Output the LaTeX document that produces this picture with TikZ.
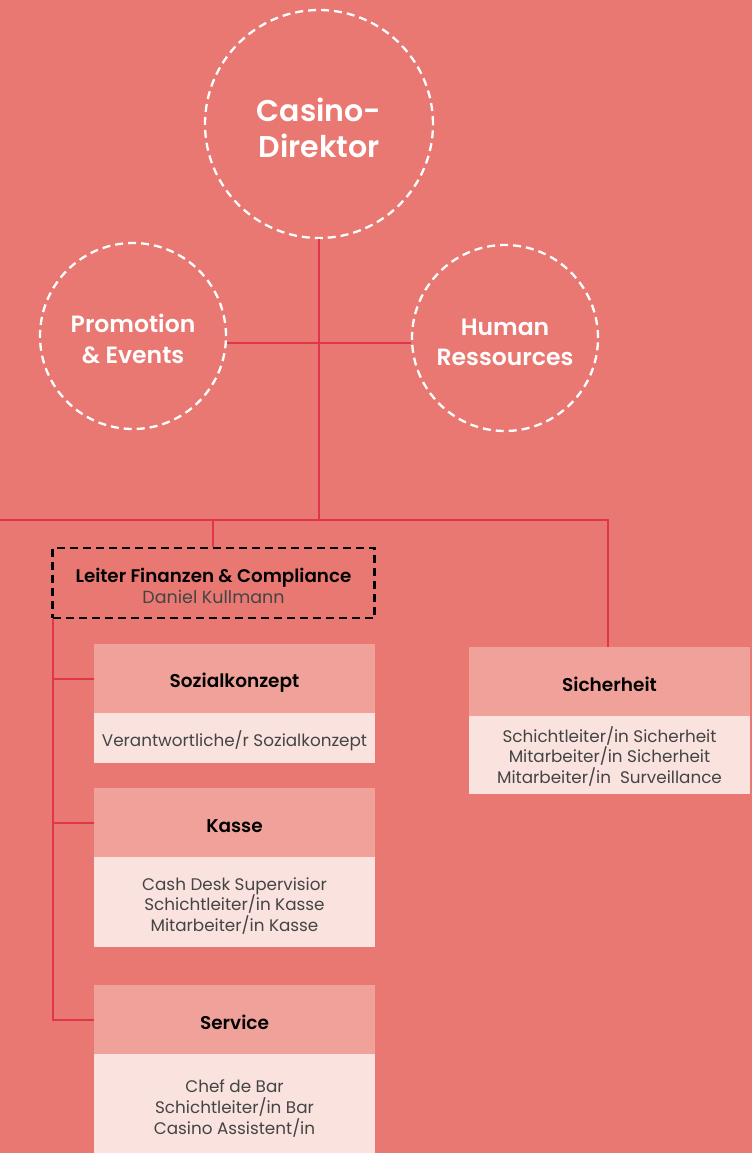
\documentclass[tikz,border=0pt]{standalone}
\usepackage{fontspec}
\setmainfont{Poppins}
\newfontfamily\semib{Poppins SemiBold}
\newfontfamily\medf{Poppins Medium}
\definecolor{bg}{HTML}{E97872}
\definecolor{ln}{HTML}{E0364B}
\definecolor{hd}{HTML}{F0A29A}
\definecolor{bd}{HTML}{FAE3DF}
\definecolor{bt}{HTML}{444444}
\tikzset{
  circ/.style={circle,draw=white,line width=2.3pt,dash pattern=on 8pt off 5pt,inner sep=0pt},
  circtext/.style={text=white,align=center,inner sep=0pt},
  conn/.style={draw=ln,line width=2pt},
  hdbox/.style={fill=hd,draw=none,minimum width=281pt,minimum height=69pt,inner sep=0pt},
  hdtext/.style={font=\fontsize{18.5}{22}\selectfont\semib,text=black},
  bdbox/.style={fill=bd,draw=none,minimum width=281pt,inner sep=0pt},
  bdtext/.style={font=\fontsize{16.8}{20.8}\selectfont,text=bt,align=center},
}
\begin{document}
\begin{tikzpicture}[x=1pt,y=-1pt]
\fill[bg] (0,0) rectangle (752,1153);
\useasboundingbox (0,0) rectangle (752,1153);
% circles
\node[circ,minimum size=228pt] (dir) at (319,124) {};
\node[circtext,font=\fontsize{30}{36}\selectfont\semib] (dirt) at (319,127.5) {Casino-\\Direktor};
\node[circ,minimum size=186pt] (promo) at (133,336) {};
\node[circtext,font=\fontsize{23.5}{31}\selectfont\semib] (promot) at (133,339) {Promotion\\\& Events};
\node[circ,minimum size=186pt] (hr) at (505,338) {};
\node[circtext,font=\fontsize{23.5}{30}\selectfont\semib] (hrt) at (505,342) {Human\\Ressources};
% finance box
\node[draw=black,line width=2.3pt,dash pattern=on 8pt off 5pt,minimum width=322pt,minimum height=70pt,inner sep=0pt] (fin) at (213.5,583) {};
\node[align=center,inner sep=0pt] (fint) at (213.5,585.5)
  {{\fontsize{18.3}{22}\selectfont\semib Leiter Finanzen \& Compliance}\\[2pt]{\fontsize{17.5}{20}\selectfont\color{bt}Daniel Kullmann}};
% Sozialkonzept
\node[hdbox] (soz) at (234.5,678.5) {};
\node[hdtext] (sozt) at (234.5,683) {Sozialkonzept};
\node[bdbox,minimum height=50pt,anchor=north] (sozb) at (soz.south) {};
\node[bdtext] (sozbt) at (234.5,740.5) {Verantwortliche/r Sozialkonzept};
% Kasse
\node[hdbox] (kas) at (234.5,822.5) {};
\node[hdtext] (kast) at (234.5,826.5) {Kasse};
\node[bdbox,minimum height=90pt,anchor=north] (kasb) at (kas.south) {};
\node[bdtext] (kasbt) at (234.5,906) {Cash Desk Supervisior\\Schichtleiter/in Kasse\\Mitarbeiter/in Kasse};
% Service
\node[hdbox] (ser) at (234.5,1019) {};
\node[hdtext] (sert) at (234.5,1022.5) {Service};
\node[bdbox,minimum height=100pt,anchor=north] (serb) at (ser.south) {};
\node[bdtext] (serbt) at (234.5,1108.5) {Chef de Bar\\Schichtleiter/in Bar\\Casino Assistent/in};
% Sicherheit
\node[hdbox] (sic) at (609.5,681.5) {};
\node[hdtext] (sict) at (609.5,684.5) {Sicherheit};
\node[bdbox,minimum height=78pt,anchor=north] (sicb) at (sic.south) {};
\node[bdtext] (sicbt) at (609.5,756.5) {Schichtleiter/in Sicherheit\\Mitarbeiter/in Sicherheit\\Mitarbeiter/in\ \ Surveillance};
% connectors
\coordinate (j1) at (319,520);
\coordinate (jl) at (0,520);
\coordinate (jr) at (608,520);
\coordinate (jf) at (213,520);
\coordinate (lx) at (53,1020);
\coordinate (hy) at (319,343);
\draw[conn] (dir.south) -- (j1);
\draw[conn] (promo.east |- hy) -- (hr.west |- hy);
\draw[conn] (jl) -- (jr) -- (sic.north -| jr);
\draw[conn] (jf) -- (fin.north -| jf);
\draw[conn] (fin.south -| lx) -- (lx) -- (ser.west |- lx);
\draw[conn] (lx |- soz.west) -- (soz.west);
\draw[conn] (lx |- kas.west) -- (kas.west);
\end{tikzpicture}
\end{document}
